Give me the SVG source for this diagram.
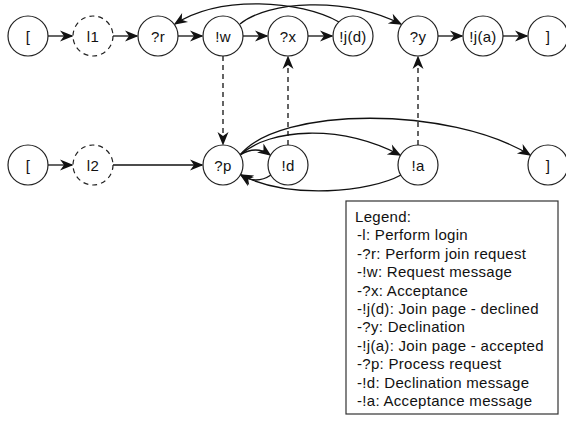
<svg xmlns="http://www.w3.org/2000/svg" width="566" height="423" viewBox="0 0 566 423">
  <style>
    .node circle { fill: #fff; stroke: #222; stroke-width: 1.2; }
    .node.dash circle { stroke-dasharray: 5 4; }
    .node text { font-family: "Liberation Sans", Arial, sans-serif; font-size: 15px; letter-spacing: 0.3px; fill: #111; text-anchor: middle; }
    .edge { fill: none; stroke: #111; stroke-width: 1.3; marker-end: url(#ah); }
    .edge.dash { stroke-dasharray: 5 4; }
    .legend rect { fill: #fff; stroke: #333; stroke-width: 1.2; }
    .legend text { font-family: "Liberation Sans", Arial, sans-serif; font-size: 15px; fill: #111; letter-spacing: 0.3px; }
  </style>
  <defs>
    <marker id="ah" markerUnits="userSpaceOnUse" markerWidth="18" markerHeight="14" viewBox="-14 -7 18 14" refX="0" refY="0" orient="auto">
      <path d="M1.5,0 L-12,-5.5 L-8,0 L-12,5.5 Z" fill="#111"/>
    </marker>
  </defs>

  <rect width="566" height="423" fill="#fff"/>

  <!-- connectors -->
  <g id="edges">
    <!-- top row, straight -->
    <path class="edge" d="M48,36 L72,36"/>
    <path class="edge" d="M113,36 L137,36"/>
    <path class="edge" d="M178,36 L202,36"/>
    <path class="edge" d="M243,36 L267,36"/>
    <path class="edge" d="M308,36 L332,36"/>
    <path class="edge" d="M438,36 L462,36"/>
    <path class="edge" d="M503,36 L527,36"/>
    <!-- top row, curved -->
    <path class="edge" d="M339,22 C300,0 220,-5 175,24"/>
    <path class="edge" d="M240,24 C268,1 345,-4 401,24"/>
    <!-- bottom row, straight -->
    <path class="edge" d="M48,165 L72,165"/>
    <path class="edge" d="M113,165 L202,165"/>
    <!-- bottom row, curved -->
    <path class="edge" d="M240,155 Q256,145 270,155"/>
    <path class="edge" d="M240,155 C270,128 340,124 400,155"/>
    <path class="edge" d="M240,155 C280,106 450,106 530,155"/>
    <path class="edge" d="M401,175 C370,192 290,200 241,175"/>
    <path class="edge" d="M271,175 Q256,185 241,175"/>
    <!-- vertical, dashed -->
    <path class="edge dash" d="M223,56 L223,144"/>
    <path class="edge dash" d="M288,145 L288,57"/>
    <path class="edge dash" d="M418,145 L418,57"/>
  </g>

  <!-- top row nodes -->
  <g id="n-start1" class="node"><circle cx="28" cy="36" r="20"/><text x="28" y="41.5">[</text></g>
  <g id="n-l1" class="node dash"><circle cx="93" cy="36" r="20"/><text x="93" y="41.5">l1</text></g>
  <g id="n-r" class="node"><circle cx="158" cy="36" r="20"/><text x="158" y="41.5">?r</text></g>
  <g id="n-w" class="node"><circle cx="223" cy="36" r="20"/><text x="223" y="41.5">!w</text></g>
  <g id="n-x" class="node"><circle cx="288" cy="36" r="20"/><text x="288" y="41.5">?x</text></g>
  <g id="n-jd" class="node"><circle cx="353" cy="36" r="20"/><text x="353" y="41.5">!j(d)</text></g>
  <g id="n-y" class="node"><circle cx="418" cy="36" r="20"/><text x="418" y="41.5">?y</text></g>
  <g id="n-ja" class="node"><circle cx="483" cy="36" r="20"/><text x="483" y="41.5">!j(a)</text></g>
  <g id="n-end1" class="node"><circle cx="548" cy="36" r="20"/><text x="548" y="41.5">]</text></g>

  <!-- bottom row nodes -->
  <g id="n-start2" class="node"><circle cx="28" cy="165" r="20"/><text x="28" y="170.5">[</text></g>
  <g id="n-l2" class="node dash"><circle cx="93" cy="165" r="20"/><text x="93" y="170.5">l2</text></g>
  <g id="n-p" class="node"><circle cx="223" cy="165" r="20"/><text x="223" y="170.5">?p</text></g>
  <g id="n-d" class="node"><circle cx="288" cy="165" r="20"/><text x="288" y="170.5">!d</text></g>
  <g id="n-a" class="node"><circle cx="418" cy="165" r="20"/><text x="418" y="170.5">!a</text></g>
  <g id="n-end2" class="node"><circle cx="548" cy="165" r="20"/><text x="548" y="170.5">]</text></g>

  <!-- legend -->
  <g id="legend" class="legend">
    <rect x="346" y="201" width="212" height="213"/>
    <text x="355" y="222">Legend:</text>
    <text x="357" y="240.4">-l: Perform login</text>
    <text x="357" y="258.8">-?r: Perform join request</text>
    <text x="357" y="277.2">-!w: Request message</text>
    <text x="357" y="295.6">-?x: Acceptance</text>
    <text x="357" y="314">-!j(d): Join page - declined</text>
    <text x="357" y="332.4">-?y: Declination</text>
    <text x="357" y="350.8">-!j(a): Join page - accepted</text>
    <text x="357" y="369.2">-?p: Process request</text>
    <text x="357" y="387.6">-!d: Declination message</text>
    <text x="357" y="406">-!a: Acceptance message</text>
  </g>
</svg>
